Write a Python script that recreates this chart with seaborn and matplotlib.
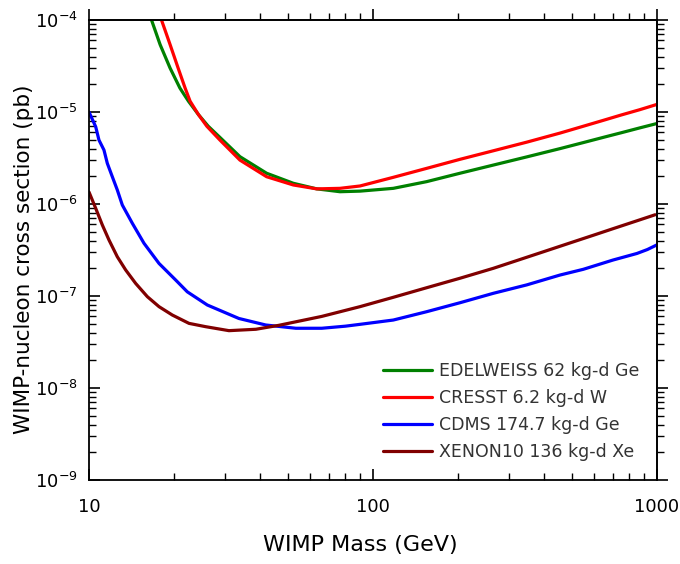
import numpy as np
import pandas as pd
import matplotlib
matplotlib.use("Agg")
import matplotlib.pyplot as plt
import seaborn as sns
from matplotlib.ticker import LogLocator, NullFormatter

# ---------------- data ----------------
series_names = ["EDELWEISS 62 kg-d Ge", "CRESST 6.2 kg-d W",
                "CDMS 174.7 kg-d Ge", "XENON10 136 kg-d Xe"]
series_colors = ["#008000", "#ff0000", "#0000ff", "#800000"]

edelweiss_mass = [16.6, 17.8, 19.3, 20.9, 22.4, 24.3, 26.3, 28.9, 34.0, 42.2, 52.4,
                  63.4, 76.5, 90.0, 117.9, 154.5, 202.5, 265.3, 347.7, 455.5, 550,
                  650, 750, 870, 1000]
edelweiss_sigma = [1.0e-4, 5.4e-5, 3.0e-5, 1.82e-5, 1.31e-5, 9.35e-6, 7.0e-6, 5.3e-6,
                   3.27e-6, 2.16e-6, 1.68e-6, 1.46e-6, 1.36e-6, 1.38e-6, 1.48e-6, 1.75e-6,
                   2.16e-6, 2.65e-6, 3.25e-6, 4.0e-6, 4.65e-6, 5.32e-6, 5.96e-6, 6.72e-6,
                   7.5e-6]

cresst_mass = [18.0, 19.3, 20.6, 21.8, 22.7, 24.3, 26.0, 28.9, 34.0, 42.2, 52.4,
               63.4, 76.5, 90.0, 117.9, 154.5, 202.5, 265.3, 347.7, 455.5, 550,
               650, 750, 870, 1000]
cresst_sigma = [1.0e-4, 5.4e-5, 3.0e-5, 1.82e-5, 1.31e-5, 9.35e-6, 7.0e-6, 4.96e-6,
                3.0e-6, 1.98e-6, 1.61e-6, 1.46e-6, 1.48e-6, 1.57e-6, 1.95e-6, 2.44e-6,
                3.06e-6, 3.79e-6, 4.7e-6, 5.9e-6, 7.0e-6, 8.15e-6, 9.3e-6, 1.06e-5,
                1.21e-5]

cdms_mass = [10.0, 10.56, 10.84, 11.29, 11.6, 12.08, 12.58, 13.1, 14.21, 15.62, 17.64,
             20.2, 22.19, 26.1, 33.7, 41.9, 53.5, 66.0, 80.0, 90.0, 117.9, 154.5, 202.5,
             265.3, 347.7, 455.5, 550, 700, 850, 925, 1000]
cdms_sigma = [1.0e-5, 6.9e-6, 4.96e-6, 3.86e-6, 2.77e-6, 1.98e-6, 1.42e-6, 9.75e-7,
              6.17e-7, 3.74e-7, 2.26e-7, 1.49e-7, 1.11e-7, 7.98e-8, 5.7e-8, 4.84e-8,
              4.46e-8, 4.46e-8, 4.7e-8, 4.92e-8, 5.48e-8, 6.75e-8, 8.45e-8, 1.07e-7,
              1.32e-7, 1.69e-7, 1.95e-7, 2.46e-7, 2.9e-7, 3.2e-7, 3.6e-7]

xenon_mass = [10.0, 10.56, 11.14, 11.76, 12.58, 13.46, 14.6, 16.05, 17.64, 19.65, 22.5,
              25.75, 31.1, 38.7, 46.6, 66.0, 90.0, 117.9, 154.5, 202.5, 265.3, 316,
              400, 500, 600, 700, 850, 985]
xenon_sigma = [1.35e-6, 8.97e-7, 5.92e-7, 4.06e-7, 2.67e-7, 1.92e-7, 1.37e-7, 9.83e-8,
               7.66e-8, 6.21e-8, 5.04e-8, 4.64e-8, 4.2e-8, 4.35e-8, 4.8e-8, 6.0e-8,
               7.66e-8, 9.68e-8, 1.23e-7, 1.56e-7, 2.0e-7, 2.39e-7, 3.04e-7, 3.82e-7,
               4.6e-7, 5.39e-7, 6.57e-7, 7.64e-7]

x_ticks = [10, 100, 1000]
x_tick_labels = ["10", "100", "1000"]
y_ticks = [1e-9, 1e-8, 1e-7, 1e-6, 1e-5, 1e-4]
y_tick_labels = [r"10$^{-9}$", r"10$^{-8}$", r"10$^{-7}$",
                 r"10$^{-6}$", r"10$^{-5}$", r"10$^{-4}$"]

# ---------------- build long-form table ----------------
frames = []
for name, m, s in zip(series_names,
                      [edelweiss_mass, cresst_mass, cdms_mass, xenon_mass],
                      [edelweiss_sigma, cresst_sigma, cdms_sigma, xenon_sigma]):
    frames.append(pd.DataFrame({"mass": m, "sigma": s, "experiment": name}))
df = pd.concat(frames, ignore_index=True)

# ---------------- figure ----------------
sns.set_theme(style="ticks")
plt.rcParams["font.family"] = ["DejaVu Sans"]
plt.rcParams["axes.linewidth"] = 1.3

fig = plt.figure(figsize=(6.8, 5.64), dpi=100)
ax = fig.add_axes([89 / 680, 1 - 480 / 564, 568 / 680, 460 / 564])

sns.lineplot(data=df, x="mass", y="sigma", hue="experiment",
             hue_order=series_names, palette=series_colors,
             linewidth=2.3, estimator=None, sort=False, ax=ax)

ax.set_xscale("log")
ax.set_yscale("log")
ax.set_xlim(10, 1000)
ax.set_ylim(1e-9, 1e-4)

ax.set_xticks(x_ticks, x_tick_labels)
ax.xaxis.set_minor_locator(LogLocator(base=10, subs=np.arange(2, 10), numticks=20))
ax.xaxis.set_minor_formatter(NullFormatter())
ax.set_yticks(y_ticks, y_tick_labels)
ax.yaxis.set_minor_locator(LogLocator(base=10, subs=np.arange(2, 10), numticks=20))
ax.yaxis.set_minor_formatter(NullFormatter())

ax.tick_params(which="both", direction="in", top=False, right=False,
               colors="black", labelsize=13)
ax.tick_params(which="major", length=8, width=1.2)
ax.tick_params(which="minor", length=5, width=1.0)
ax.tick_params(axis="x", which="major", pad=13)
ax.tick_params(axis="y", which="major", pad=8)

# top / right ticks pointing outward
secx = ax.secondary_xaxis("top")
secx.set_xticks(x_ticks)
secx.xaxis.set_minor_locator(LogLocator(base=10, subs=np.arange(2, 10), numticks=20))
secx.xaxis.set_major_formatter(NullFormatter())
secx.xaxis.set_minor_formatter(NullFormatter())
secx.tick_params(which="both", direction="out", colors="black")
secx.tick_params(which="major", length=8, width=1.2)
secx.tick_params(which="minor", length=5, width=1.0)

secy = ax.secondary_yaxis("right")
secy.set_yticks(y_ticks)
secy.yaxis.set_minor_locator(LogLocator(base=10, subs=np.arange(2, 10), numticks=20))
secy.yaxis.set_major_formatter(NullFormatter())
secy.yaxis.set_minor_formatter(NullFormatter())
secy.tick_params(which="both", direction="out", colors="black")
secy.tick_params(which="major", length=8, width=1.2)
secy.tick_params(which="minor", length=5, width=1.0)

for sp in ax.spines.values():
    sp.set_color("black")
    sp.set_linewidth(1.3)

ax.set_xlabel("WIMP Mass (GeV)", fontsize=16, color="black")
ax.set_ylabel("WIMP-nucleon cross section (pb)", fontsize=15.5, color="black")
ax.xaxis.set_label_coords((360 - 89) / 568, (480 - 535) / 460)
ax.yaxis.set_label_coords((34 - 89) / 568, 0.48)

sns.move_legend(ax, "upper left", bbox_to_anchor=(0.5176, 0.257), title=None,
                frameon=False, fontsize=12.5, handlelength=2.85, handletextpad=0.4,
                labelspacing=0.52, borderpad=0, borderaxespad=0)
leg = ax.get_legend()
for t in leg.get_texts():
    t.set_color("#333333")
for h in leg.legend_handles:
    h.set_linewidth(2.3)

fig.savefig("out.png", dpi=100)
